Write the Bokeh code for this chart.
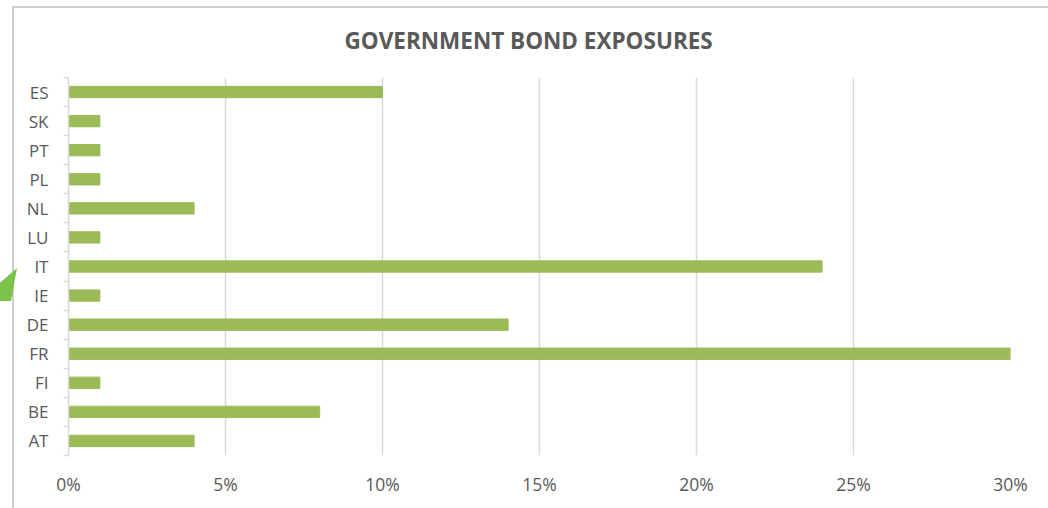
from bokeh.plotting import figure
from bokeh.models import FixedTicker, NumeralTickFormatter, Range1d, InlineStyleSheet
from bokeh.embed import file_html
from bokeh.resources import INLINE

categories = ["ES", "SK", "PT", "PL", "NL", "LU", "IT", "IE", "DE", "FR", "FI", "BE", "AT"]
values = [0.10, 0.01, 0.01, 0.01, 0.04, 0.01, 0.24, 0.01, 0.14, 0.30, 0.01, 0.08, 0.04]
x_ticks = [0, 0.05, 0.10, 0.15, 0.20, 0.25, 0.30]

n = len(categories)
ypos = [n - i - 0.5 for i in range(n)]

FL, FB = 68, 455  # frame left / bottom in canvas px

p = figure(width=1048, height=508, output_backend="svg", toolbar_location=None,
           x_range=Range1d(0, 0.30), y_range=Range1d(0, n),
           min_border_left=FL, min_border_right=38, min_border_top=77, min_border_bottom=508 - FB)
p.outline_line_color = None
p.background_fill_color = "white"
p.border_fill_color = "white"

p.hbar(y=ypos, right=values, left=0, height=0.39, color="#9BBB59")

# x axis
p.xaxis.ticker = FixedTicker(ticks=x_ticks)
p.xaxis.formatter = NumeralTickFormatter(format="0%")
p.xaxis.axis_line_color = None
p.xaxis.major_tick_line_color = None
p.xaxis.minor_tick_line_color = None
p.xaxis.major_label_standoff = 10
p.xaxis.major_label_text_font = "Open Sans"
p.xaxis.major_label_text_font_size = "17.5px"
p.xaxis.major_label_text_color = "#595959"

# y axis
p.yaxis.ticker = FixedTicker(ticks=ypos, minor_ticks=list(range(n + 1)))
p.yaxis.major_label_overrides = {y: c for y, c in zip(ypos, categories)}
p.yaxis.axis_line_color = "#D9D9D9"
p.yaxis.axis_line_width = 1.5
p.yaxis.major_tick_line_color = None
p.yaxis.minor_tick_line_color = "#D9D9D9"
p.yaxis.minor_tick_line_width = 1.5
p.yaxis.minor_tick_out = 5
p.yaxis.minor_tick_in = 0
p.yaxis.major_label_standoff = 14
p.yaxis.major_label_text_font = "Open Sans"
p.yaxis.major_label_text_font_size = "17px"
p.yaxis.major_label_text_color = "#595959"

p.xgrid.ticker = FixedTicker(ticks=x_ticks)
p.xgrid.grid_line_color = "#D9D9D9"
p.xgrid.grid_line_width = 1.5
p.ygrid.grid_line_color = None

p.title.text = "GOVERNMENT BOND EXPOSURES"
p.title.align = "left"
p.title.offset = 344 - FL
p.title.text_font = "Open Sans"
p.title.text_font_size = "22.5px"
p.title.text_font_style = "bold"
p.title.text_color = "#595959"
p.title.text_line_height = 0.8
p.title.standoff = 44

# chart border and the green pointer arrow at the left edge (page decoration)
deco = InlineStyleSheet(css="""
:host { position: relative; }
:host::before {
  content: ""; position: absolute; left: 12px; top: 6px; right: 0; bottom: 0;
  border-left: 2px solid #CFCFCF; border-top: 2px solid #CFCFCF;
  pointer-events: none; z-index: 5;
}
:host::after {
  content: ""; position: absolute; left: 0; top: 268px; width: 17px; height: 33px;
  background: #7DC24B; clip-path: polygon(0 45%, 100% 0, 65% 100%, 0 100%);
  pointer-events: none; z-index: 6;
}
""")
p.stylesheets = [deco]

open("out.html", "w").write(file_html(p, INLINE))
